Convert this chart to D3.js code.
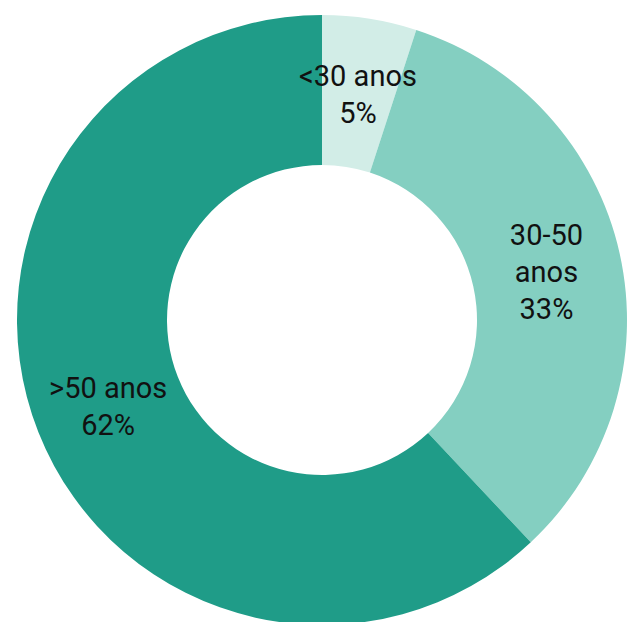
<!DOCTYPE html>
<html>
<head>
<meta charset="utf-8">
<script src="https://cdn.jsdelivr.net/npm/d3@7"></script>
<style>
  html, body { margin: 0; padding: 0; background: #fff; overflow: hidden; }
  svg { display: block; }
  .slice-label { font-family: Roboto, "Noto Sans", sans-serif; font-size: 29px; fill: #111; }
</style>
</head>
<body>
<figure id="chart_view" style="margin:0"></figure>
<script>
// Age groups and their share (%)
const categories = ["<30 anos", "30-50 anos", ">50 anos"];
const values = [5, 33, 62];
const labelLines = [["<30 anos", "5%"], ["30-50", "anos", "33%"], [">50 anos", "62%"]];
const colors = ["#d2ede7", "#84cfc1", "#1f9c88"];

const width = 627;
const height = 622;
const cx = 322, cy = 320;
const outerR = 305, innerR = 155;

const color = d3.scaleOrdinal(categories, colors);

const svg = d3.select("figure#chart_view")
  .append("svg")
  .attr("width", width)
  .attr("height", height)
  .attr("viewBox", [0, 0, width, height]);

const pie = d3.pie().sort(null).value(d => d.value);
const arcs = pie(categories.map((c, i) => ({ name: c, value: values[i], lines: labelLines[i] })));

const arc = d3.arc().innerRadius(innerR).outerRadius(outerR);
const labelArc = d3.arc().innerRadius(230).outerRadius(230);

const g = svg.append("g").attr("transform", `translate(${cx},${cy})`);

g.selectAll("path")
  .data(arcs)
  .join("path")
  .attr("fill", d => color(d.data.name))
  .attr("d", arc);

// Labels, centred on each slice
const lineH = 37;
g.selectAll("text")
  .data(arcs)
  .join("text")
  .attr("class", "slice-label")
  .attr("text-anchor", "middle")
  .attr("transform", d => `translate(${labelArc.centroid(d)})`)
  .each(function (d) {
    const n = d.data.lines.length;
    d3.select(this).selectAll("tspan")
      .data(d.data.lines)
      .join("tspan")
      .attr("x", 0)
      .attr("y", (t, i) => (i - (n - 1) / 2) * lineH + 2)
      .attr("dy", "0.35em")
      .text(t => t);
  });
</script>
</body>
</html>
